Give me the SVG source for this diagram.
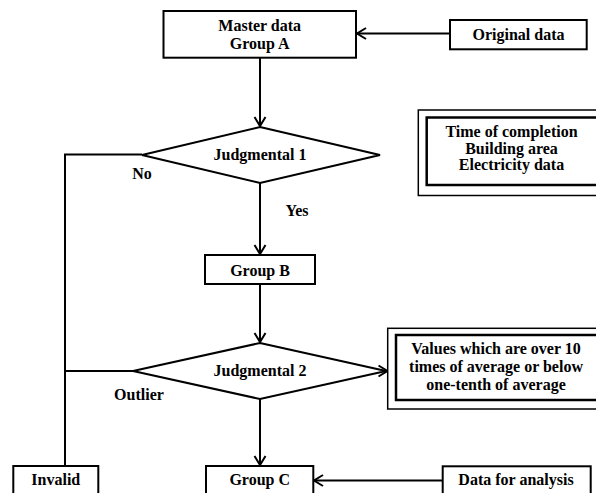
<svg xmlns="http://www.w3.org/2000/svg" width="596" height="493" viewBox="0 0 596 493">
<defs>
<marker id="arr" viewBox="-10 -7 12 14" markerWidth="12" markerHeight="14" refX="0" refY="0" orient="auto" markerUnits="userSpaceOnUse">
<path d="M-9,-5.5 L0,0 L-9,5.5" fill="none" stroke="#000" stroke-width="2"/>
</marker>
</defs>
<style>
.box{fill:#fff;stroke:#000;stroke-width:2}
.outer{fill:#fff;stroke:#000;stroke-width:1.5}
.inner{fill:#fff;stroke:#000;stroke-width:2.5}
.line{fill:none;stroke:#000;stroke-width:2}
text{font-family:"Liberation Serif","Times New Roman",serif;font-weight:bold;font-size:16px;text-anchor:middle;fill:#000}
</style>
<rect width="596" height="493" fill="#fff"/>
<g id="connectors">
<line class="line" x1="450" y1="33.5" x2="357" y2="33.5" marker-end="url(#arr)"/>
<line class="line" x1="260" y1="58" x2="260" y2="126" marker-end="url(#arr)"/>
<line class="line" x1="260" y1="183" x2="260" y2="254" marker-end="url(#arr)"/>
<line class="line" x1="260" y1="284" x2="260" y2="342" marker-end="url(#arr)"/>
<line class="line" x1="260" y1="399" x2="260" y2="465" marker-end="url(#arr)"/>
<polyline class="line" points="142,154.5 65,154.5 65,466"/>
<line class="line" x1="133" y1="371" x2="65" y2="371"/>
<line class="line" x1="442.7" y1="480.5" x2="314" y2="480.5" marker-end="url(#arr)"/>
<line class="line" x1="384" y1="371" x2="387.5" y2="371" marker-end="url(#arr)"/>
<text x="297" y="216">Yes</text>
<text x="142" y="179">No</text>
<text x="139" y="400">Outlier</text>
</g>
<g id="master">
<rect class="box" x="163.5" y="11" width="192.5" height="46.7"/>
<text x="259.7" y="31">Master data</text>
<text x="259.7" y="48.5">Group A</text>
</g>
<g id="original">
<rect class="box" x="450" y="20" width="136.7" height="29.3"/>
<text x="518.5" y="39.5">Original data</text>
</g>
<g id="attributes">
<rect class="outer" x="418.3" y="110" width="190" height="85.5"/>
<rect class="inner" x="426.7" y="117.5" width="180" height="67.5"/>
<text x="511.5" y="137.3">Time of completion</text>
<text x="511.5" y="153.8">Building area</text>
<text x="511.5" y="170.3">Electricity data</text>
</g>
<g id="judgmental1">
<polygon class="box" points="260,127 380,155 260,183 142,155"/>
<text x="260" y="160">Judgmental 1</text>
</g>
<g id="groupB">
<rect class="box" x="205" y="255" width="110" height="29"/>
<text x="260" y="275.5">Group B</text>
</g>
<g id="judgmental2">
<polygon class="box" points="260,343 386,371 260,399 133,371"/>
<text x="260" y="376">Judgmental 2</text>
</g>
<g id="criteria">
<rect class="outer" x="387.7" y="328.3" width="220" height="80.7"/>
<rect class="inner" x="396" y="335" width="210" height="65"/>
<text x="496" y="354">Values which are over 10</text>
<text x="496" y="372">times of average or below</text>
<text x="496" y="390">one-tenth of average</text>
</g>
<g id="invalid">
<rect class="box" x="13.3" y="466" width="85" height="40"/>
<text x="55.8" y="485">Invalid</text>
</g>
<g id="groupC">
<rect class="box" x="206" y="466" width="107.3" height="40"/>
<text x="259.7" y="485">Group C</text>
</g>
<g id="analysis">
<rect class="box" x="442.7" y="466.3" width="148" height="40"/>
<text x="516" y="485">Data for analysis</text>
</g>
</svg>
